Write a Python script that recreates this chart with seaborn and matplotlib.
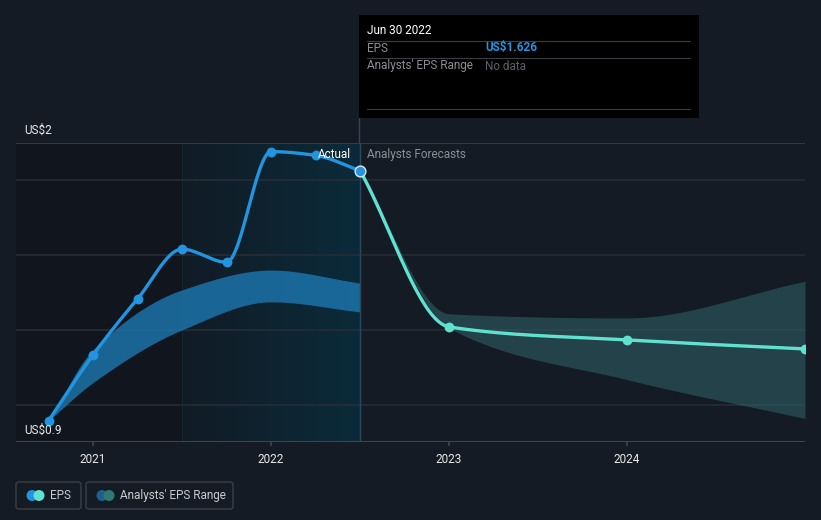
#!/usr/bin/env python3
# eps_forecast.py

import numpy as np
import pandas as pd
import seaborn as sns
import matplotlib
matplotlib.use('Agg')
import matplotlib.pyplot as plt
from matplotlib.patches import FancyBboxPatch, Rectangle, Ellipse

# Data ========================================================================

actual_dates = [2020.75, 2021.0, 2021.25, 2021.5, 2021.75, 2022.0, 2022.25, 2022.5]
actual_eps = [0.957, 1.133, 1.283, 1.416, 1.381, 1.677, 1.667, 1.626]

past_range_dates = [2020.75, 2021.0, 2021.5, 2022.0, 2022.5]
past_range_high = [0.957, 1.147, 1.307, 1.360, 1.325]
past_range_low = [0.957, 1.059, 1.200, 1.275, 1.248]

forecast_dates = [2022.5, 2023.0, 2024.0, 2025.0]
forecast_eps = [1.626, 1.208, 1.173, 1.149]
forecast_high = [1.626, 1.243, 1.232, 1.330]
forecast_low = [1.626, 1.205, 1.067, 0.963]

year_ticks = [2021, 2022, 2023, 2024]

BG = '#151b25'
BLUE = '#2394df'
TEAL = '#5fe3d0'


# Functions ===================================================================

def pchip(x, y, n=200):
    """Monotone cubic curve through the points, for a smooth look."""
    x = np.asarray(x, float)
    y = np.asarray(y, float)
    h = np.diff(x)
    d = np.diff(y) / h
    m = np.zeros_like(y)
    for k in range(1, len(x) - 1):
        if d[k - 1] * d[k] > 0:
            w1 = 2 * h[k] + h[k - 1]
            w2 = h[k] + 2 * h[k - 1]
            m[k] = (w1 + w2) / (w1 / d[k - 1] + w2 / d[k])
    m[0] = d[0]
    m[-1] = d[-1]
    xs = np.linspace(x[0], x[-1], n)
    idx = np.clip(np.searchsorted(x, xs) - 1, 0, len(x) - 2)
    t = (xs - x[idx]) / h[idx]
    h00 = 2 * t**3 - 3 * t**2 + 1
    h10 = t**3 - 2 * t**2 + t
    h01 = -2 * t**3 + 3 * t**2
    h11 = t**3 - t**2
    ys = (h00 * y[idx] + h10 * h[idx] * m[idx]
          + h01 * y[idx + 1] + h11 * h[idx] * m[idx + 1])
    return xs, ys


def main():
    sns.set_theme(style='dark')
    plt.rcParams['font.family'] = ['Roboto', 'DejaVu Sans']
    fig = plt.figure(figsize=(8.21, 5.2), dpi=100, facecolor=BG)
    ax = fig.add_axes([16 / 821, 78 / 520, 789 / 821, 299 / 520])
    ax.set_facecolor(BG)
    x0, x1 = 2020.567, 2025.0
    ax.set_xlim(x0, x1)
    ax.set_ylim(0.9, 1.7)

    # shaded past regions
    ax.add_patch(Rectangle((x0, 0.9), 2021.5 - x0, 0.8, color='#11161e',
                           zorder=0, lw=0))
    grad = np.linspace(0, 1, 256).reshape(1, -1)
    cmap = matplotlib.colors.LinearSegmentedColormap.from_list(
        'g', ['#111b25', '#0b2b3a'])
    ax.imshow(grad, extent=[2021.5, 2022.5, 0.9, 1.7], aspect='auto',
              cmap=cmap, zorder=0.5)
    ax.axvline(2021.5, color='#16262f', lw=0.8, zorder=1)

    # grid
    for v in [1.0, 1.2, 1.4, 1.6]:
        ax.axhline(v, color='#262d37', lw=1.2, zorder=1.5)
    ax.axhline(1.7, color='#3a4049', lw=1.2, zorder=1.5)
    ax.axhline(0.9, color='#3f444c', lw=1.5, zorder=1.5)

    # ranges
    px, ph = pchip(past_range_dates, past_range_high)
    _, pl = pchip(past_range_dates, past_range_low)
    ax.fill_between(px, pl, ph, color='#1c76ae', alpha=0.82, lw=0, zorder=2)
    fx, fh = pchip(forecast_dates, forecast_high)
    _, fl = pchip(forecast_dates, forecast_low)
    ax.fill_between(fx, fl, fh, color='#2f6468', alpha=0.55, lw=0, zorder=2)

    # lines
    ax_, ay_ = pchip(actual_dates, actual_eps)
    sns.lineplot(x=ax_, y=ay_, color=BLUE, lw=2.4, ax=ax, zorder=3,
                 sort=False)
    fx2, fy2 = pchip(forecast_dates, forecast_eps)
    sns.lineplot(x=fx2, y=fy2, color=TEAL, lw=2.4, ax=ax, zorder=3,
                 sort=False)
    sns.scatterplot(x=actual_dates[:-1], y=actual_eps[:-1], color=BLUE,
                    s=50, lw=0, ax=ax, zorder=4)
    sns.scatterplot(x=forecast_dates[1:], y=forecast_eps[1:], color=TEAL,
                    s=50, lw=0, ax=ax, zorder=4)
    sns.scatterplot(x=actual_dates[-1:], y=actual_eps[-1:], color=BLUE,
                    s=60, edgecolor='#d8e8f0', lw=1.0, ax=ax, zorder=5)

    # today divider
    ax.axvline(2022.5, color='#2a4a5a', lw=1.0, zorder=2.5)
    fig.add_artist(plt.Line2D([359 / 821, 359 / 821], [1 - 118 / 520, 1 - 143 / 520],
                              color='#2a4a5a', lw=1.0))

    ax.text(2022.45, 1.668, 'Actual', color='white', fontsize=8.5,
            ha='right', va='center', zorder=6)
    ax.text(2022.54, 1.668, 'Analysts Forecasts', color='#8b9097',
            fontsize=8.5, ha='left', va='center', zorder=6)

    # axes styling
    ax.set_xticks(year_ticks)
    ax.set_xticklabels([str(y) for y in year_ticks], color='#e8e8e8',
                       fontsize=8.5)
    ax.tick_params(axis='x', length=3, color='#3f444c', pad=5,
                   bottom=True)
    ax.set_yticks([])
    ax.grid(False)
    for s in ax.spines.values():
        s.set_visible(False)

    fig.text(24 / 821, 1 - 130 / 520, 'US$2', color='#e8e8e8', fontsize=8.5,
             va='center')
    fig.text(24 / 821, 1 - 430 / 520, 'US$0.9', color='#e8e8e8',
             fontsize=8.5, va='center')

    # tooltip
    fig.patches.append(Rectangle((359 / 821, 1 - 118 / 520), 340 / 821,
                                 103 / 520, transform=fig.transFigure,
                                 facecolor='black', edgecolor='none'))
    fig.text(367 / 821, 1 - 30 / 520, 'Jun 30 2022', color='white',
             fontsize=8.5, va='center')
    for yy in (41, 58, 109):
        fig.add_artist(plt.Line2D([367 / 821, 690 / 821],
                                  [1 - yy / 520, 1 - yy / 520],
                                  color='#3a3d42', lw=0.8))
    fig.text(367 / 821, 1 - 48 / 520, 'EPS', color='#8b8f95', fontsize=8.5,
             va='center')
    fig.text(485 / 821, 1 - 48 / 520, 'US$1.626', color=BLUE, fontsize=8.5,
             va='center', fontweight='bold')
    fig.text(367 / 821, 1 - 66 / 520, "Analysts' EPS Range", color='#8b8f95',
             fontsize=8.5, va='center')
    fig.text(485 / 821, 1 - 66 / 520, 'No data', color='#5d6167',
             fontsize=8.5, va='center')

    # legend
    for (bx, bw, label, c1, c2) in [
        (16, 65, 'EPS', BLUE, TEAL),
        (86, 147, "Analysts' EPS Range", '#1f5f8c', '#2d7a74'),
    ]:
        fig.patches.append(FancyBboxPatch(
            (bx / 821, 1 - 509 / 520), bw / 821, 27 / 520,
            boxstyle='round,pad=0,rounding_size=0.004',
            transform=fig.transFigure, facecolor=BG, edgecolor='#3a3f47',
            lw=1.0))
        ay = 1 - 495.5 / 520
        for cx, col in ((bx + 16, c1), (bx + 23, c2)):
            fig.patches.append(Ellipse((cx / 821, ay), 11 / 821, 11 / 520,
                                       transform=fig.transFigure,
                                       facecolor=col, edgecolor='none'))
        fig.text((bx + 34) / 821, ay, label, color='#c8cbd0', fontsize=8.5,
                 va='center')

    fig.savefig('out.png', dpi=100, facecolor=BG)


# Execute =====================================================================

if __name__ == '__main__':
    main()
